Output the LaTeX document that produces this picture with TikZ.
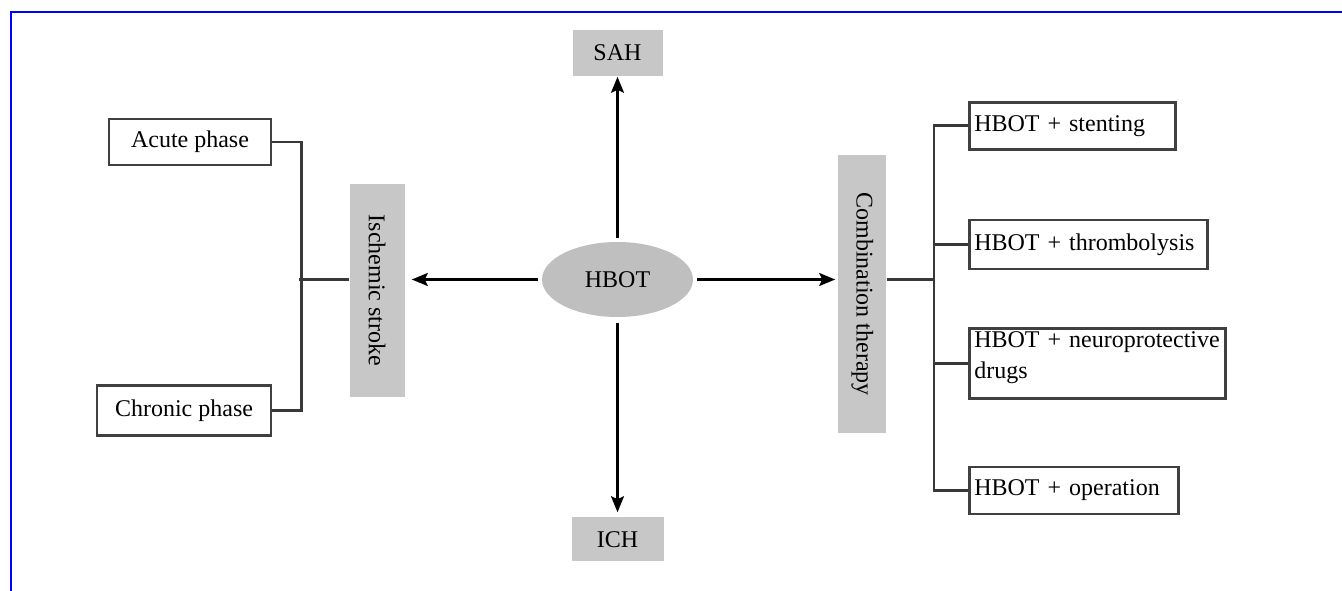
\documentclass[tikz,border=0pt]{standalone}
\usepackage{fontspec}
\setmainfont{Liberation Serif}
\usepackage{graphicx}
\usetikzlibrary{arrows.meta,positioning,shapes.geometric}

\begin{document}
\begin{tikzpicture}[x=1pt,y=-1pt,
                    font=\fontsize{24}{30}\selectfont,
                    greybox/.style={fill=black!22, inner sep=0pt},
                    leaf/.style={draw=black!75, line width=2.6pt, inner sep=0pt, minimum height=47pt},
                    combo/.style={leaf, inner xsep=5pt, align=left},
                    link/.style={draw=black!78, line width=2.6pt},
                    arr/.style={-{Stealth[length=16pt,width=13pt,inset=3pt]}, line width=2.2pt}]
  \useasboundingbox (0,0) rectangle (1342,591);
  \draw[blue, line width=2pt] (10.7,591) -- (10.7,11.7) -- (1342,11.7);

  % centre and the four branches
  \node[ellipse, fill=black!25, minimum width=151pt, minimum height=75pt, inner sep=0pt] (hbot) at (617.5,279.5) {HBOT};
  \node[greybox, minimum width=90pt, minimum height=46pt, above=166pt of hbot] (sah) {SAH};
  \node[greybox, minimum width=92pt, minimum height=44pt, below=200pt of hbot] (ich) {ICH};
  \node[greybox, minimum width=55pt, minimum height=212pt, left=137pt of hbot, yshift=-11pt] (isch) {\rotatebox{-90}{Ischemic stroke}};
  \node[greybox, minimum width=48pt, minimum height=278pt, right=145pt of hbot, yshift=-14.5pt] (comb) {\rotatebox{-90}{Combination therapy}};

  % stroke phases
  \node[leaf, minimum width=162pt, minimum height=46pt] (acute) at (190,142) {Acute phase};
  \node[leaf, minimum width=174pt, minimum height=50pt, below=218pt of acute.south east, anchor=north east] (chron) {Chronic phase};

  % combinations
  \node[combo, text width=196pt, anchor=north west] (sten) at (968,101) {HBOT + stenting};
  \node[combo, text width=228pt, minimum height=49pt, below=68pt of sten.south west, anchor=north west] (thromb) {HBOT + thrombolysis};
  \node[combo, text width=246pt, minimum height=70pt, font=\fontsize{24}{31}\selectfont,
        below=57pt of thromb.south west, anchor=north west] (neuro) {HBOT + neuroprotective\\drugs\rule[-16pt]{0pt}{1pt}};
  \node[combo, text width=199pt, below=66pt of neuro.south west, anchor=north west] (oper) {HBOT + operation};

  \draw[arr, shorten <=4pt, shorten >=7pt] (hbot.west) -- (isch.east |- hbot.west);
  \draw[arr, shorten <=4pt, shorten >=3pt] (hbot.east) -- (comb.west |- hbot.east);
  \draw[arr, shorten <=4pt, shorten >=1pt] (hbot.north) -- (sah.south);
  \draw[arr, shorten <=6pt, shorten >=5pt] (hbot.south) -- (ich.north);

  \draw[link] (acute.east) -- ++(29,0) |- (chron.east);
  \draw[link] (isch.west |- hbot) -- ++(-50,0);
  \draw[link] (sten.west) -- ++(-34,0) |- (oper.west);
  \draw[link] (thromb.west) -- ++(-34,0);
  \draw[link] (neuro.west) -- ++(-34,0);
  \draw[link] (comb.east |- hbot) -- ++(48,0);
\end{tikzpicture}
\end{document}
